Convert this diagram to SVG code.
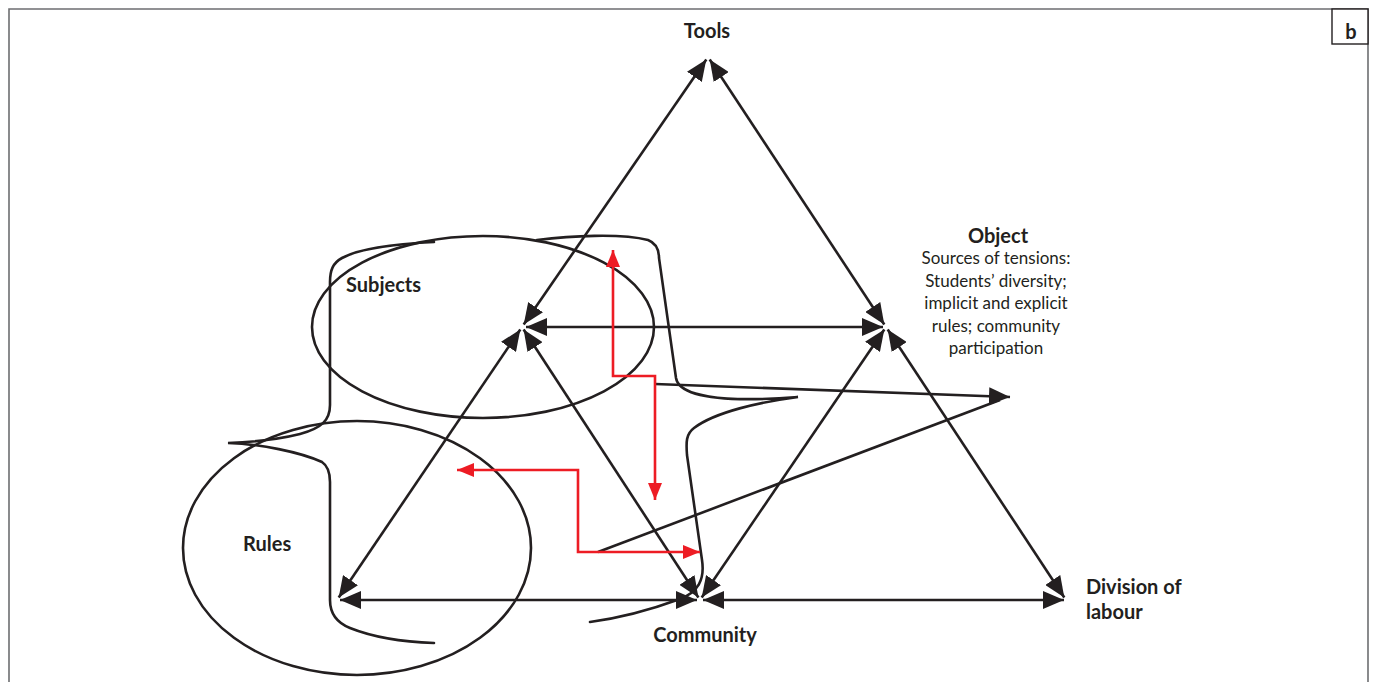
<svg xmlns="http://www.w3.org/2000/svg" width="1375" height="682" viewBox="0 0 1375 682">
<style>
.ln{stroke:#231f20;stroke-width:2.6;fill:none}
.dbl{marker-start:url(#ah);marker-end:url(#ah)}
.crv{stroke:#231f20;stroke-width:2.6;fill:none;stroke-linecap:round}
.red{stroke:#ed1c24;stroke-width:2.6;fill:none;marker-start:url(#rh);marker-end:url(#rh)}
.lbl{font-family:Lato,'Liberation Sans',sans-serif;font-weight:bold;font-size:20px;fill:#231f20}
.sub{font-family:Lato,'Liberation Sans',sans-serif;font-size:17px;fill:#231f20;text-anchor:middle}
</style>
<defs>
<marker id="ah" markerUnits="userSpaceOnUse" markerWidth="22" markerHeight="18" refX="21" refY="9" orient="auto-start-reverse"><path d="M0,0 L21,9 L0,18 z" fill="#231f20"/></marker>
<marker id="rh" markerUnits="userSpaceOnUse" markerWidth="17" markerHeight="14" refX="17" refY="7" orient="auto-start-reverse"><path d="M0,0 L17,7 L0,14 z" fill="#ed1c24"/></marker>
</defs>
<rect width="1375" height="682" fill="#fff"/>
<g id="frame">
<path d="M9,682 L9,9 L1368,9 L1368,682" fill="none" stroke="#6d6e71" stroke-width="1.6"/>
<rect x="1332" y="9" width="36" height="35" fill="#fff" stroke="#231f20" stroke-width="1.4"/>
<text x="1351" y="39" class="lbl" font-size="22" text-anchor="middle">b</text>
</g>
<g id="ellipses">
<ellipse id="subjects-ellipse" cx="483" cy="327" rx="171" ry="91" class="crv"/>
<ellipse id="rules-ellipse" cx="357" cy="548" rx="174" ry="127" class="crv"/>
</g>
<g id="braces">
<path id="left-brace" class="crv" d="M434,242 C395,244 360,248 342,258 C333,263 330,270 330,282 L330,405 C330,420 322,428 300,434 C280,439 255,442 228,443 C260,444 300,452 322,462 C328,466 330,472 330,482 L330,600 C330,612 335,622 350,628 C375,638 405,642 434,643"/>
<path id="right-brace" class="crv" d="M537,240 C570,236 620,233 648,240 C656,243 659,250 659,258 L676,378 C679,396 720,403 798,397 C760,402 715,412 694,428 C686,434 686,442 687,455 L702,560 C705,580 698,592 680,599 C650,610 620,618 590,622"/>
</g>
<g id="connectors">
<line class="ln dbl" x1="706.3" y1="59.5" x2="523.7" y2="324.5"/>
<line class="ln dbl" x1="709.7" y1="59.5" x2="884.3" y2="324.5"/>
<line class="ln dbl" x1="526" y1="327" x2="883" y2="327"/>
<line class="ln dbl" x1="520.3" y1="329.5" x2="338.7" y2="597.5"/>
<line class="ln dbl" x1="523.6" y1="329.5" x2="698.4" y2="597.5"/>
<line class="ln dbl" x1="884.3" y1="329.5" x2="701.7" y2="597.5"/>
<line class="ln dbl" x1="887.7" y1="329.5" x2="1064.3" y2="597.5"/>
<line class="ln dbl" x1="340" y1="600" x2="697" y2="600"/>
<line class="ln dbl" x1="703" y1="600" x2="1064" y2="600"/>
<line class="ln" x1="655" y1="384" x2="1010" y2="397" marker-end="url(#ah)"/>
<line class="ln" x1="598" y1="552" x2="1000" y2="400"/>
<path class="red" d="M613,250 L613,376 L655,376 L655,500"/>
<path class="red" d="M457,470 L578,470 L578,552 L700,552"/>
</g>
<g id="tools"><text x="707" y="38" class="lbl" text-anchor="middle">Tools</text></g>
<g id="subjects"><text x="346" y="292" class="lbl">Subjects</text></g>
<g id="rules"><text x="243" y="551" class="lbl">Rules</text></g>
<g id="community"><text x="705" y="642" class="lbl" text-anchor="middle">Community</text></g>
<g id="division"><text x="1086" y="594" class="lbl">Division of</text><text x="1086" y="619" class="lbl">labour</text></g>
<g id="object">
<text x="998" y="243" class="lbl" text-anchor="middle">Object</text>
<text x="996" y="264" class="sub">Sources of tensions:</text>
<text x="996" y="287" class="sub">Students’ diversity;</text>
<text x="996" y="309" class="sub">implicit and explicit</text>
<text x="996" y="332" class="sub">rules; community</text>
<text x="996" y="354" class="sub">participation</text>
</g>
</svg>
